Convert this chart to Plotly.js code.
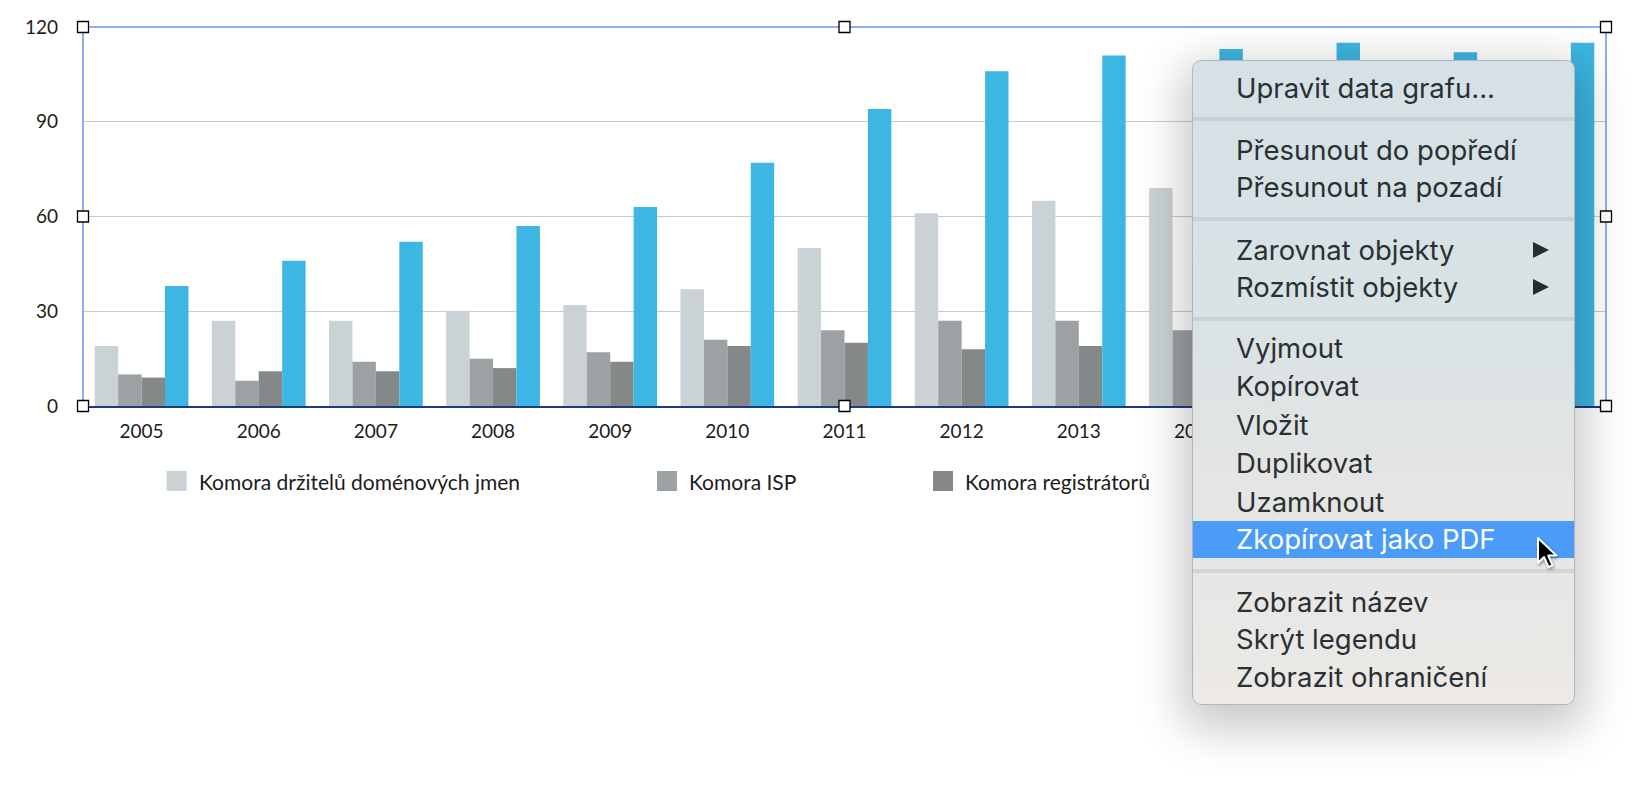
<!DOCTYPE html>
<html><head><meta charset="utf-8">
<script src="https://cdn.plot.ly/plotly-3.0.1.min.js"></script>
<style>
html,body{margin:0;padding:0;background:#fff;width:1640px;height:806px;overflow:hidden;}
#chart{position:absolute;left:0;top:0;width:1640px;height:806px;}
#menu{position:absolute;left:1192px;top:60px;width:381px;height:643px;border:1px solid #b3b6b8;border-radius:9px;
 background:linear-gradient(180deg,#d5e1e6 0%,#d9e2e5 40%,#e4e5e4 65%,#ece9e6 100%);
 box-shadow:0 14px 46px 10px rgba(0,0,0,0.22);font-family:Inter,"Noto Sans",sans-serif;color:#2a3033;overflow:hidden;}
.item{position:absolute;left:0;right:0;height:38px;line-height:38px;padding-left:43px;font-size:27.5px;white-space:nowrap;}
.sep{position:absolute;left:0;right:0;height:4px;background:rgba(120,140,148,0.18);}
.hl{background:#4a9cf8;color:#fff;height:37px;line-height:37px;}
.arrow{position:absolute;left:340px;top:10.5px;width:0;height:0;border-left:16px solid #262c2f;border-top:8.5px solid transparent;border-bottom:8.5px solid transparent;}
#cursor{position:absolute;left:1536px;top:536px;overflow:visible;}
</style></head>
<body>
<div id="chart"></div>
<div id="menu">
 <div class="item" style="top:8px">Upravit data grafu...</div>
 <div class="sep" style="top:56px"></div>
 <div class="item" style="top:70px">Přesunout do popředí</div>
 <div class="item" style="top:107px">Přesunout na pozadí</div>
 <div class="sep" style="top:156px"></div>
 <div class="item" style="top:170px">Zarovnat objekty<span class="arrow"></span></div>
 <div class="item" style="top:207px">Rozmístit objekty<span class="arrow"></span></div>
 <div class="sep" style="top:256px"></div>
 <div class="item" style="top:268px">Vyjmout</div>
 <div class="item" style="top:306px">Kopírovat</div>
 <div class="item" style="top:345px">Vložit</div>
 <div class="item" style="top:383px">Duplikovat</div>
 <div class="item" style="top:422px">Uzamknout</div>
 <div class="item hl" style="top:460px">Zkopírovat jako PDF</div>
 <div class="sep" style="top:508px"></div>
 <div class="item" style="top:522px">Zobrazit název</div>
 <div class="item" style="top:559px">Skrýt legendu</div>
 <div class="item" style="top:597px">Zobrazit ohraničení</div>
</div>
<svg id="cursor" width="30" height="40" viewBox="0 0 30 40">
 <path d="M2,2 L2,27 L8,21 L12.5,31 L16.5,29.3 L12.2,19.6 L20.5,19.6 Z" fill="#000" stroke="#fff" stroke-width="2" stroke-linejoin="round" style="filter:drop-shadow(1px 2px 1.5px rgba(0,0,0,0.35))"/>
</svg>
<script>
// ---- data ----
const years = ['2005','2006','2007','2008','2009','2010','2011','2012','2013','2014','2015','2016','2017'];
const drzitele = [19, 27, 27, 30, 32, 37, 50, 61, 65, 69, 70, 68, 71];
const isp = [10, 8, 14, 15, 17, 21, 24, 27, 27, 24, 25, 25, 25];
const registratori = [9, 11, 11, 12, 14, 19, 20, 18, 19, 20, 20, 19, 19];
const celkem = [38, 46, 52, 57, 63, 77, 94, 106, 111, 113, 115, 112, 115];
const seriesNames = ['Komora držitelů doménových jmen', 'Komora ISP', 'Komora registrátorů', 'Celkem'];
const yTicks = [0, 30, 60, 90, 120];

// ---- style ----
const colors = ['#cbd2d5', '#9ca1a3', '#858889', '#3db6e3'];
const series = [drzitele, isp, registratori, celkem];
const W = 1640, H = 806;
const M = {l: 83, r: 34, t: 27, b: 400};
const plotW = W - M.l - M.r, plotH = H - M.t - M.b;
const fontFam = 'Lato, "Open Sans", sans-serif';

const traces = series.map((vals, i) => ({
  type: 'bar', x: years, y: vals, name: seriesNames[i],
  marker: {color: colors[i], line: {width: 0}},
  showlegend: false
}));

// legend (manual, to match square swatch size)
const legendSwatchX = [176.7, 667, 943, 1298];
const legendY = 481;
const px2x = p => (p - M.l) / plotW;
const px2y = p => (M.t + plotH - p) / plotH;
const shapes = [];
const annotations = [];
legendSwatchX.forEach((sx, i) => {
  shapes.push({type: 'rect', xref: 'paper', yref: 'paper', xsizemode: 'pixel', ysizemode: 'pixel',
    xanchor: px2x(sx), yanchor: px2y(legendY), x0: -10, x1: 10, y0: -10, y1: 10,
    fillcolor: colors[i], line: {width: 0}});
  annotations.push({xref: 'paper', yref: 'paper', x: px2x(sx + 20), y: px2y(legendY),
    xanchor: 'left', yanchor: 'middle', showarrow: false, text: seriesNames[i],
    font: {family: fontFam, size: 21, color: '#1c1c1c'}});
});

// selection frame
const selColor = '#8caef5';
shapes.push({type: 'line', xref: 'paper', yref: 'paper', x0: 0, x1: 0, y0: 0, y1: 1, line: {color: selColor, width: 2}, layer: 'above'});
shapes.push({type: 'line', xref: 'paper', yref: 'paper', x0: 0, x1: 1, y0: 1, y1: 1, line: {color: selColor, width: 2}, layer: 'above'});
shapes.push({type: 'line', xref: 'paper', yref: 'paper', x0: 1, x1: 1, y0: 0, y1: 1, line: {color: selColor, width: 2}, layer: 'above'});
// handles
[[0,1],[0.5,1],[1,1],[0,0.5],[1,0.5],[0,0],[0.5,0],[1,0]].forEach(([hx, hy]) => {
  shapes.push({type: 'rect', xref: 'paper', yref: 'paper', xsizemode: 'pixel', ysizemode: 'pixel',
    xanchor: hx, yanchor: hy, x0: -5.5, x1: 5.5, y0: -5.5, y1: 5.5,
    fillcolor: '#ffffff', line: {color: '#000000', width: 1.3}, layer: 'above'});
});

const layout = {
  width: W, height: H,
  margin: {l: M.l, r: M.r, t: M.t, b: M.b, pad: 0},
  paper_bgcolor: '#ffffff', plot_bgcolor: '#ffffff',
  barmode: 'group', bargap: 0.2, bargroupgap: 0,
  font: {family: fontFam, size: 19, color: '#1c1c1c'},
  xaxis: {type: 'category', showgrid: false, zeroline: false, showline: true,
    linecolor: '#1d3a80', linewidth: 2, ticks: '', ticklabelstandoff: 7,
    tickfont: {family: fontFam, size: 19, color: '#1c1c1c'}, fixedrange: true},
  yaxis: {range: [0, 120], tickvals: yTicks, ticktext: yTicks.map(String),
    showgrid: true, gridcolor: '#c9cacb', gridwidth: 1, zeroline: false, showline: false,
    ticks: '', ticklabelstandoff: 24, tickfont: {family: fontFam, size: 19, color: '#1c1c1c'}, fixedrange: true},
  shapes: shapes,
  annotations: annotations,
  showlegend: false
};

Plotly.newPlot('chart', traces, layout, {displayModeBar: false, staticPlot: true});
</script>
</body></html>
